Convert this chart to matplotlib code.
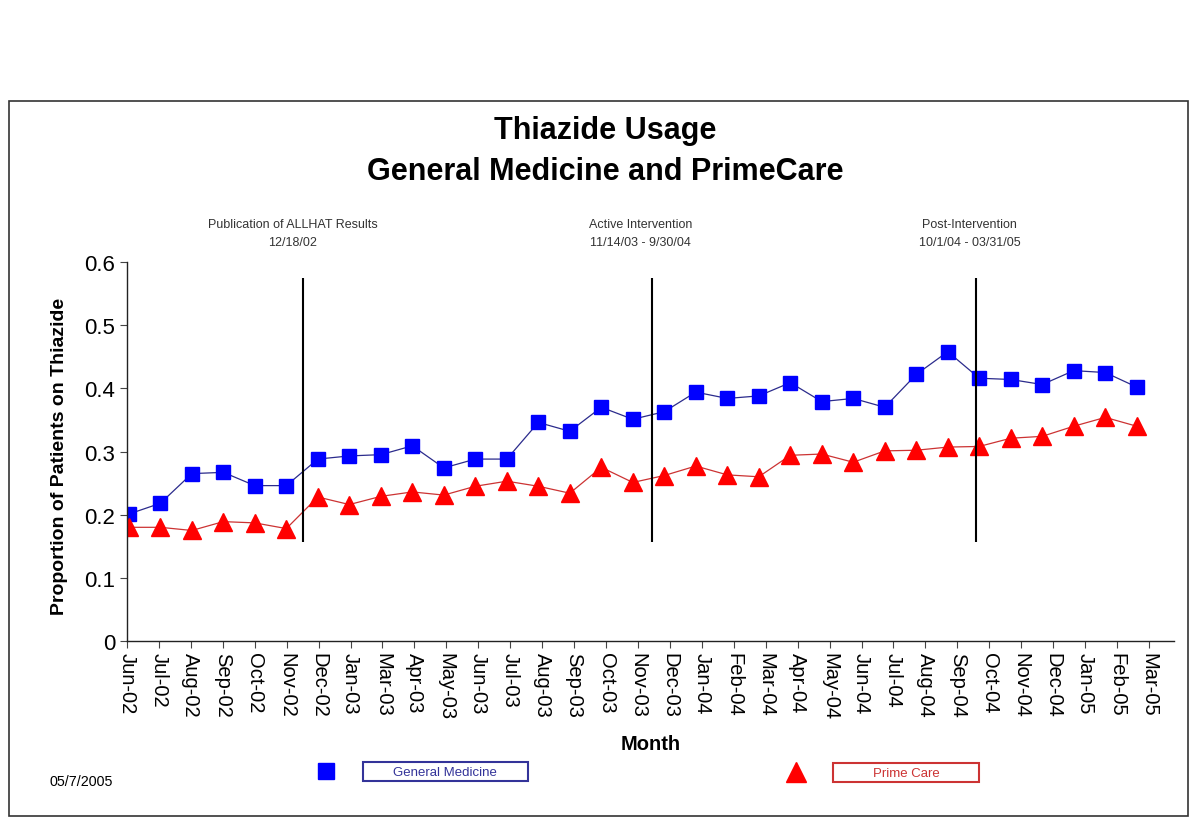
import numpy as np
import matplotlib
matplotlib.use("Agg")
import matplotlib.pyplot as plt
from matplotlib.patches import Rectangle
from matplotlib.lines import Line2D

plt.rcParams['font.family'] = ['Liberation Sans', 'DejaVu Sans']

months = ["Jun-02", "Jul-02", "Aug-02", "Sep-02", "Oct-02", "Nov-02", "Dec-02",
          "Jan-03", "Mar-03", "Apr-03", "May-03", "Jun-03", "Jul-03", "Aug-03",
          "Sep-03", "Oct-03", "Nov-03", "Dec-03", "Jan-04", "Feb-04", "Mar-04",
          "Apr-04", "May-04", "Jun-04", "Jul-04", "Aug-04", "Sep-04", "Oct-04",
          "Nov-04", "Dec-04", "Jan-05", "Feb-05", "Mar-05"]

general_medicine = [0.201, 0.218, 0.265, 0.267, 0.246, 0.246, 0.288, 0.293, 0.295,
                    0.309, 0.274, 0.288, 0.288, 0.346, 0.332, 0.370, 0.351, 0.363,
                    0.394, 0.384, 0.388, 0.409, 0.379, 0.384, 0.370, 0.422, 0.458,
                    0.416, 0.414, 0.406, 0.428, 0.425, 0.402]

prime_care = [0.180, 0.180, 0.175, 0.189, 0.187, 0.178, 0.228, 0.216, 0.229,
              0.236, 0.231, 0.245, 0.253, 0.245, 0.234, 0.275, 0.251, 0.262,
              0.277, 0.263, 0.260, 0.294, 0.296, 0.283, 0.301, 0.302, 0.307,
              0.308, 0.321, 0.324, 0.340, 0.354, 0.340]

# event markers (position in month index units) and their labels
events = [5.52, 16.6, 26.9]
event_labels = [("Publication of ALLHAT Results", "12/18/02"),
                ("Active Intervention", "11/14/03 - 9/30/04"),
                ("Post-Intervention", "10/1/04 - 03/31/05")]
event_text_x = [5.2, 16.25, 26.7]

fig = plt.figure(figsize=(12, 8.28), dpi=100)
ax = fig.add_axes([0.1058, 0.2246, 0.8722, 0.4578])

x = np.arange(len(months))
ax.plot(x, general_medicine, color="#2b2b8c", lw=0.9, marker="s", markersize=10,
        markerfacecolor="#0000ff", markeredgecolor="#0000ff")
ax.plot(x, prime_care, color="#cc3333", lw=0.9, marker="^", markersize=12.5,
        markerfacecolor="#ff0000", markeredgecolor="#ff0000")

ax.vlines(events, 0.157, 0.575, color="black", lw=1.5)
for ex, (l1, l2) in zip(event_text_x, event_labels):
    ax.text(ex, 0.660, l1, ha="center", va="center", fontsize=9, color="#333333")
    ax.text(ex, 0.631, l2, ha="center", va="center", fontsize=9, color="#333333")

ax.set_ylim(0, 0.6)
ax.set_xlim(-0.06, 33.17)
ax.set_yticks([0, 0.1, 0.2, 0.3, 0.4, 0.5, 0.6])
ax.set_yticklabels(["0", "0.1", "0.2", "0.3", "0.4", "0.5", "0.6"], fontsize=16)
ax.set_xticks(x * 1.014 - 0.06)
ax.set_xticklabels(months, rotation=-90, fontsize=14.5)
ax.tick_params(axis="both", direction="out", length=5, width=0.8, color="#444444")
ax.tick_params(axis="x", pad=3)
for s in ["top", "right"]:
    ax.spines[s].set_visible(False)
for s in ["left", "bottom"]:
    ax.spines[s].set_linewidth(1.0)
    ax.spines[s].set_color("#222222")

fig.text(60 / 1200, 1 - 456 / 828, "Proportion of Patients on Thiazide", rotation=90,
         ha="center", va="center", fontsize=14, fontweight="bold")
fig.text(651 / 1200, 1 - 745 / 828, "Month", ha="center", va="center",
         fontsize=14.5, fontweight="bold")

fig.text(605 / 1200, 1 - 131 / 828, "Thiazide Usage", ha="center", va="center",
         fontsize=22, fontweight="bold")
fig.text(605 / 1200, 1 - 172 / 828, "General Medicine and PrimeCare", ha="center",
         va="center", fontsize=22, fontweight="bold")

fig.text(50 / 1200, 1 - 782 / 828, "05/7/2005", ha="left", va="center", fontsize=10.3)

# legend drawn by hand
fig.add_artist(Line2D([326 / 1200], [1 - 772 / 828], marker="s", markersize=12,
                      color="#0000ff", transform=fig.transFigure))
fig.add_artist(Rectangle((363 / 1200, 1 - 782 / 828), 165 / 1200, 19 / 828,
                         transform=fig.transFigure, fill=False, ec="#333399", lw=1.5))
fig.text(445 / 1200, 1 - 773 / 828, "General Medicine", ha="center", va="center",
         fontsize=9.5, color="#333399")
fig.add_artist(Line2D([796 / 1200], [1 - 773 / 828], marker="^", markersize=14,
                      color="#ff0000", transform=fig.transFigure))
fig.add_artist(Rectangle((833 / 1200, 1 - 783 / 828), 146 / 1200, 19 / 828,
                         transform=fig.transFigure, fill=False, ec="#cc3333", lw=1.5))
fig.text(906 / 1200, 1 - 774 / 828, "Prime Care", ha="center", va="center",
         fontsize=9.5, color="#cc3333")

# outer frame
fig.add_artist(Rectangle((9 / 1200, 1 - 817 / 828), 1179 / 1200, 715 / 828,
                         transform=fig.transFigure, fill=False, ec="#333333", lw=1.2))

fig.savefig("out.png", dpi=100)
